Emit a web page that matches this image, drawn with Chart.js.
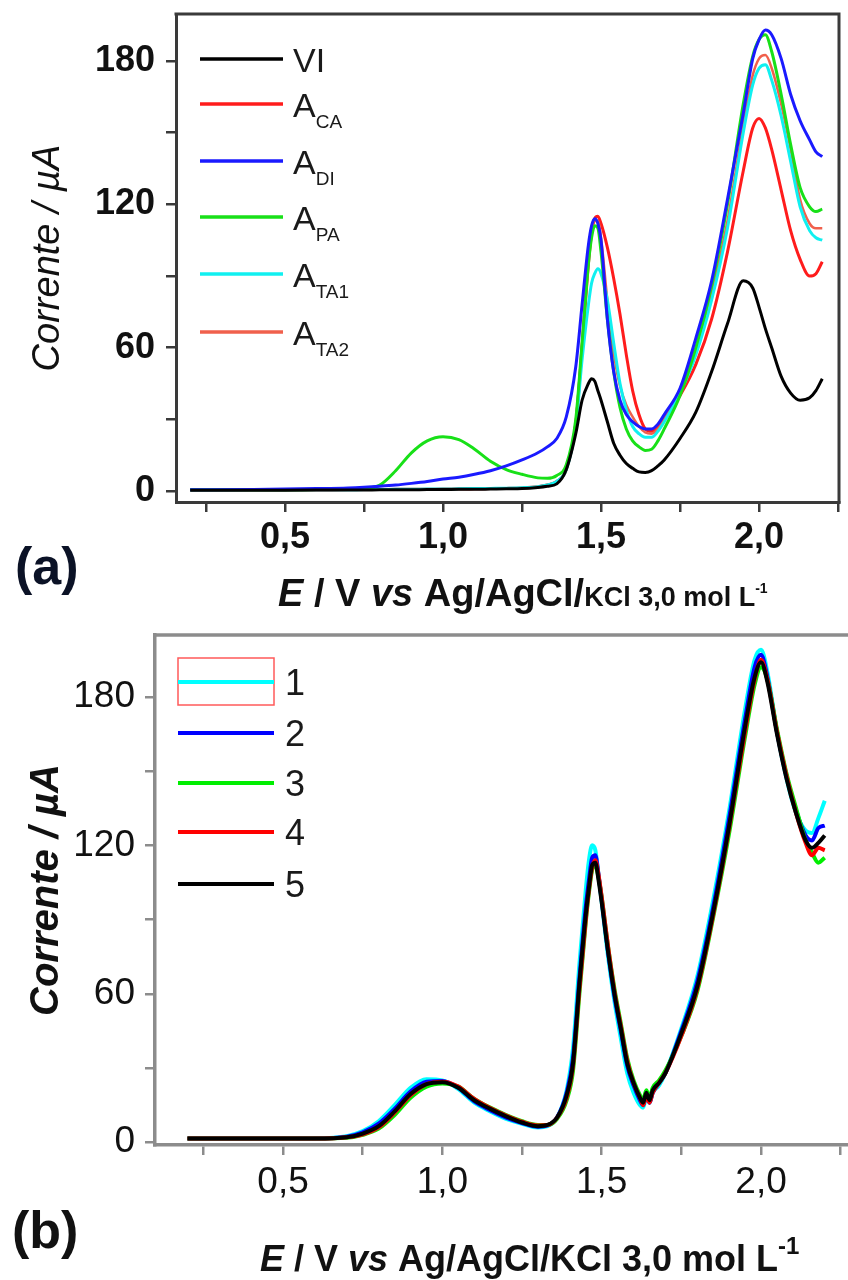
<!DOCTYPE html>
<html lang="pt">
<head>
    <meta charset="UTF-8">
    <title>Voltamogramas (a) e (b)</title>
    <style>
        body {
            margin: 0;
            background: #fff;
            font-family: "Liberation Sans", Arial, sans-serif;
        }

        .panel {
            position: absolute;
            left: 0;
            width: 848px;
        }

        #panelA { top: 0; height: 620px; }
        #panelB { top: 620px; height: 660px; }
    </style>
</head>
<body>

    <div class="panel" id="panelA"><canvas id="chartA" width="848" height="620"></canvas></div>
    <div class="panel" id="panelB"><canvas id="chartB" width="848" height="660"></canvas></div>

    <script src="https://cdn.jsdelivr.net/npm/chart.js"></script>
    <script>
        // ---- data (E in V, current in uA) ----

        // panel (a): one sample of each electrolyte
        const potentialA = [0.20, 0.40, 0.60, 0.70, 0.75, 0.80, 0.85, 0.90, 0.95, 1.00,
                            1.05, 1.10, 1.15, 1.20, 1.25, 1.30, 1.33, 1.36, 1.39, 1.42,
                            1.44, 1.46, 1.47, 1.48, 1.49, 1.50, 1.52, 1.54, 1.56, 1.58,
                            1.60, 1.62, 1.64, 1.66, 1.68, 1.70, 1.75, 1.80, 1.85, 1.90,
                            1.95, 1.98, 2.00, 2.02, 2.04, 2.07, 2.10, 2.13, 2.16, 2.18, 2.20];
        const currentVI = [0.3, 0.3, 0.4, 0.4, 0.4, 0.5, 0.5, 0.5, 0.6, 0.6,
                           0.7, 0.7, 0.8, 0.9, 1.0, 1.5, 2, 3, 9, 24,
                           38, 45, 47, 46, 42, 38, 29, 20, 15, 11.5,
                           9.5, 8, 7.8, 8.5, 10.5, 13, 22, 33, 50, 70,
                           88, 85, 77, 68, 60, 48, 41, 38, 39, 42, 47];
        const currentACA = [0.5, 0.5, 0.5, 0.6, 0.6, 0.6, 0.7, 0.7, 0.7, 0.8,
                            0.8, 0.9, 1.0, 1.1, 1.3, 1.8, 2.5, 4, 9, 28,
                            60, 95, 108, 114, 115, 112, 102, 89, 74, 57,
                            42, 32, 26, 25, 27, 30, 40, 53, 72, 100,
                            134, 152, 156, 152, 143, 126, 109, 97, 90, 91, 96];
        const currentADI = [0.5, 0.6, 1, 1.3, 1.6, 2, 2.5, 3.2, 4, 5,
                            5.8, 7, 8.5, 10.5, 13, 16, 18.5, 22, 31, 52,
                            78, 103, 111, 114, 112, 105, 72, 50, 38, 32,
                            29, 27, 26, 26, 28, 32, 43, 64, 88, 122,
                            158, 181, 189, 193, 191, 181, 166, 155, 147, 142, 140];
        const currentAPA = [0.5, 0.5, 0.6, 0.7, 1, 2.5, 8.5, 16, 21, 22.7,
                            21.5, 17.5, 12.5, 9, 7, 5.5, 5.3, 6.5, 11, 30,
                            62, 95, 106, 111, 110, 100, 72, 50, 35, 26,
                            21, 18.5, 17, 17.5, 21, 26, 40, 60, 86, 120,
                            162, 182, 189, 191, 184, 166, 145, 127, 119, 117, 118];
        const currentATA1 = [0.5, 0.5, 0.5, 0.5, 0.6, 0.6, 0.7, 0.7, 0.8, 0.8,
                             0.9, 1.0, 1.1, 1.2, 1.4, 1.8, 2.5, 4, 9, 27,
                             55, 78, 87, 91, 93, 91, 80, 62, 45, 34,
                             27, 24, 22.5, 22.5, 25, 29, 41, 57, 80, 110,
                             150, 170, 177, 178.5, 172, 157, 138, 119, 109, 106, 105];
        const currentATA2 = [0.5, 0.5, 0.5, 0.6, 0.6, 0.6, 0.7, 0.7, 0.7, 0.8,
                             0.8, 0.9, 1.0, 1.1, 1.3, 1.8, 2.5, 4, 9, 29,
                             62, 96, 108, 113, 113, 106, 80, 58, 44, 36,
                             31, 27, 24.5, 24, 26, 30, 42, 60, 83, 113,
                             153, 174, 181, 182.5, 177, 162, 143, 122, 112, 110, 110];

        // panel (b): five repeated runs
        const potentialB = [0.20, 0.40, 0.60, 0.70, 0.75, 0.80, 0.85, 0.90, 0.95, 1.00,
                            1.05, 1.10, 1.15, 1.20, 1.25, 1.30, 1.33, 1.36, 1.39, 1.41,
                            1.43, 1.45, 1.46, 1.47, 1.48, 1.49, 1.50, 1.52, 1.54, 1.56,
                            1.58, 1.60, 1.62, 1.63, 1.64, 1.65, 1.66, 1.68, 1.70, 1.75,
                            1.80, 1.85, 1.90, 1.95, 1.98, 2.00, 2.02, 2.05, 2.08, 2.11,
                            2.14, 2.16, 2.18, 2.20];
        const run1 = [1.5, 1.5, 1.6, 2.5, 4.5, 8.5, 15, 22, 25.5, 25,
                      21.5, 16, 12.5, 9.5, 7.5, 6, 6.5, 10, 21, 38,
                      72, 102, 114, 120, 118, 108, 97, 75, 57, 42,
                      28, 20, 15, 14, 18, 16, 20, 23, 28, 46,
                      67, 98, 134, 175, 195, 199, 190, 166, 147, 133,
                      126, 125, 131, 138];
        const run2 = [1.5, 1.5, 1.5, 2.2, 4, 7.5, 13.5, 20.5, 24.5, 24.8,
                      22, 16.5, 13, 10, 7.8, 6.3, 6.8, 10, 20, 34,
                      66, 95, 106, 115, 116, 108, 98, 77, 59, 45,
                      31, 23, 17, 15, 19, 16, 20, 24, 28, 45,
                      65, 95, 131, 171, 192, 197, 188, 166, 148, 134,
                      124, 122, 127, 128];
        const run3 = [1.5, 1.5, 1.5, 1.8, 3, 5.5, 11, 18, 22.5, 23.8,
                      22.5, 17.5, 14, 11, 8.5, 7, 7, 9.5, 17, 29,
                      60, 89, 101, 110, 112, 107, 99, 79, 62, 48,
                      34, 25, 19, 17, 21, 18, 22, 25, 29, 43,
                      61, 91, 125, 164, 185, 192, 187, 167, 149, 135,
                      122, 117, 113, 115];
        const run4 = [1.5, 1.5, 1.5, 2, 3.2, 6, 12, 19, 23.5, 24.5,
                      22.5, 17.5, 13.8, 10.8, 8.3, 6.8, 7, 10, 18, 31,
                      62, 90, 102, 111, 114, 108, 99, 79, 61, 47,
                      33, 24, 18, 15, 19, 16, 20, 24, 28, 43,
                      62, 92, 127, 166, 187, 195, 187, 166, 148, 133,
                      121, 116, 119, 118];
        const run5 = [1.5, 1.5, 1.5, 2, 3.5, 6.5, 12.5, 19.5, 23.5, 24.3,
                      22, 17, 13.5, 10.5, 8, 6.5, 7, 10, 19, 32,
                      64, 92, 103, 112, 113, 106, 97, 77, 60, 46,
                      32, 24, 18, 16, 20, 17, 21, 24, 28, 44,
                      63, 93, 128, 168, 188, 194, 186, 165, 147, 133,
                      122, 119, 121, 124];

        // axis ticks
        const xTickValues = [0.25, 0.5, 0.75, 1.0, 1.25, 1.5, 1.75, 2.0, 2.25];
        const xTickLabels = ['', '0,5', '', '1,0', '', '1,5', '', '2,0', ''];
        const yTickValues = [0, 30, 60, 90, 120, 150, 180];
        const yTickLabels = ['0', '', '60', '', '120', '', '180'];

        // legend names: [main, subscript]
        const namesA = [['VI', ''], ['A', 'CA'], ['A', 'DI'], ['A', 'PA'], ['A', 'TA1'], ['A', 'TA2']];
        const namesB = ['1', '2', '3', '4', '5'];

        const FONT = '"Liberation Sans", Arial, sans-serif';

        function toPoints(xs, ys) {
            return xs.map((x, i) => ({ x: x, y: ys[i] }));
        }

        // draws a row of differently styled text pieces
        function drawRuns(ctx, x, y, runs) {
            runs.forEach(r => {
                ctx.font = r.font;
                ctx.fillText(r.text, x, y + (r.dy || 0));
                x += ctx.measureText(r.text).width + (r.gap || 0);
            });
        }

        // top (and right) edge of the plot box
        const framePlugin = {
            id: 'frame',
            afterDatasetsDraw(chart, args, opts) {
                const { ctx, chartArea: a } = chart;
                ctx.save();
                ctx.strokeStyle = opts.color;
                ctx.lineWidth = opts.width;
                ctx.beginPath();
                ctx.moveTo(a.left - opts.width / 2, a.top);
                ctx.lineTo(opts.right ? a.right : chart.width, a.top);
                if (opts.right) ctx.lineTo(a.right, a.bottom + opts.width / 2);
                ctx.stroke();
                ctx.restore();
            }
        };

        // legend, x title and panel letter, drawn by hand because of sub/superscripts
        const notesPlugin = {
            id: 'notes',
            afterDraw(chart, args, opts) {
                const ctx = chart.ctx;
                ctx.save();
                ctx.textBaseline = 'alphabetic';
                ctx.textAlign = 'left';

                // legend
                const lg = opts.legend;
                if (lg.box) {
                    ctx.strokeStyle = lg.box.color;
                    ctx.lineWidth = 1.5;
                    ctx.strokeRect(lg.box.x, lg.box.y, lg.box.w, lg.box.h);
                }
                chart.data.datasets.forEach((ds, i) => {
                    const y = lg.rows[i];
                    ctx.strokeStyle = ds.borderColor;
                    ctx.lineWidth = lg.lineWidth;
                    ctx.beginPath();
                    ctx.moveTo(lg.x1, y);
                    ctx.lineTo(lg.x2, y);
                    ctx.stroke();
                    ctx.fillStyle = '#1a1a1a';
                    const name = lg.names[i];
                    const main = Array.isArray(name) ? name[0] : name;
                    const sub = Array.isArray(name) ? name[1] : '';
                    drawRuns(ctx, lg.textX, y + lg.baseShift, [
                        { text: main, font: lg.font },
                        { text: sub, font: lg.subFont, dy: lg.subShift }
                    ]);
                });

                // x axis title
                ctx.fillStyle = '#111';
                drawRuns(ctx, opts.xTitle.x, opts.xTitle.y, opts.xTitle.runs);

                // panel letter
                ctx.fillStyle = opts.letter.color;
                ctx.font = opts.letter.font;
                ctx.fillText(opts.letter.text, opts.letter.x, opts.letter.y);
                ctx.restore();
            }
        };

        function axes(cfg) {
            return {
                x: {
                    type: 'linear',
                    min: cfg.xMin,
                    max: cfg.xMax,
                    afterBuildTicks: s => { s.ticks = xTickValues.map(v => ({ value: v })); },
                    afterFit: s => { s.height = cfg.xHeight; s.paddingLeft = 0; s.paddingRight = 0; },
                    grid: { drawOnChartArea: false, drawTicks: true, tickLength: 10, color: cfg.axisColor, lineWidth: 2.5 },
                    border: { display: true, color: cfg.axisColor, width: cfg.axisWidth },
                    ticks: {
                        autoSkip: false, maxRotation: 0, padding: cfg.xPad, color: '#111',
                        font: { family: FONT, size: cfg.tickSize, weight: cfg.tickWeight },
                        callback: (v, i) => xTickLabels[i]
                    }
                },
                y: {
                    type: 'linear',
                    min: cfg.yMin,
                    max: cfg.yMax,
                    afterBuildTicks: s => { s.ticks = yTickValues.map(v => ({ value: v })); },
                    afterFit: s => { s.width = cfg.yWidth; s.paddingTop = 0; s.paddingBottom = 0; },
                    grid: { drawOnChartArea: false, drawTicks: true, tickLength: 10, color: cfg.axisColor, lineWidth: 2.5 },
                    border: { display: true, color: cfg.axisColor, width: cfg.axisWidth },
                    ticks: {
                        autoSkip: false, padding: cfg.yPad, color: '#111',
                        font: { family: FONT, size: cfg.tickSize, weight: cfg.tickWeight },
                        callback: (v, i) => yTickLabels[i]
                    },
                    title: {
                        display: true,
                        text: 'Corrente / \u00b5A',
                        color: '#111',
                        font: { family: FONT, size: cfg.titleSize, style: 'italic', weight: cfg.titleWeight },
                        padding: { top: cfg.titlePad, bottom: 0 }
                    }
                }
            };
        }

        function line(label, xs, ys, color, width, order) {
            return {
                label: label,
                data: toPoints(xs, ys),
                borderColor: color,
                borderWidth: width,
                pointRadius: 0,
                fill: false,
                cubicInterpolationMode: 'monotone',
                order: order
            };
        }

        // ---------- panel (a) ----------
        new Chart(document.getElementById('chartA'), {
            type: 'line',
            data: {
                datasets: [
                    line('VI', potentialA, currentVI, '#000000', 3, 0),
                    line('ACA', potentialA, currentACA, '#ff1c1c', 3, 5),
                    line('ADI', potentialA, currentADI, '#1a1aff', 3, 1),
                    line('APA', potentialA, currentAPA, '#18e018', 3, 2),
                    line('ATA1', potentialA, currentATA1, '#10f0f0', 3, 3),
                    line('ATA2', potentialA, currentATA2, '#f0604c', 2.5, 4)
                ]
            },
            options: {
                responsive: false,
                animation: false,
                layout: { padding: { top: 14, right: 9, left: 0, bottom: 0 } },
                scales: axes({
                    xMin: 0.155, xMax: 2.253, yMin: -4.6, yMax: 199.7,
                    xHeight: 118, yWidth: 176, xPad: 4, yPad: 11,
                    axisColor: '#3a3a3a', axisWidth: 3,
                    tickSize: 36, tickWeight: 'bold',
                    titleSize: 38, titleWeight: 'normal', titlePad: 26
                }),
                plugins: {
                    legend: { display: false },
                    tooltip: { enabled: false },
                    frame: { color: '#3a3a3a', width: 3, right: true },
                    notes: {
                        legend: {
                            names: namesA,
                            rows: [59, 104, 161, 217, 274, 332],
                            x1: 200, x2: 283, textX: 293, lineWidth: 3.5,
                            font: '34px ' + FONT, subFont: '19px ' + FONT,
                            baseShift: 13, subShift: 11
                        },
                        xTitle: {
                            x: 278, y: 606,
                            runs: [
                                { text: 'E', font: 'italic bold 38px ' + FONT },
                                { text: ' / V ', font: 'bold 38px ' + FONT },
                                { text: 'vs', font: 'italic bold 38px ' + FONT },
                                { text: ' Ag/AgCl/', font: 'bold 38px ' + FONT },
                                { text: 'KCl 3,0 mol L', font: 'bold 27px ' + FONT },
                                { text: '-1', font: 'bold 14px ' + FONT, dy: -13 }
                            ]
                        },
                        letter: { text: '(a)', font: 'bold 52px ' + FONT, color: '#0b1226', x: 15, y: 584 }
                    }
                }
            },
            plugins: [framePlugin, notesPlugin]
        });

        // ---------- panel (b) ----------
        new Chart(document.getElementById('chartB'), {
            type: 'line',
            data: {
                datasets: [
                    line('1', potentialB, run1, '#00ffff', 4, 4),
                    line('2', potentialB, run2, '#0000ff', 4, 3),
                    line('3', potentialB, run3, '#00ee00', 4, 2),
                    line('4', potentialB, run4, '#ff0000', 4, 1),
                    line('5', potentialB, run5, '#000000', 4, 0)
                ]
            },
            options: {
                responsive: false,
                animation: false,
                layout: { padding: { top: 15, right: 0, left: 0, bottom: 0 } },
                scales: axes({
                    xMin: 0.098, xMax: 2.273, yMin: -1.1, yMax: 205,
                    xHeight: 135, yWidth: 155, xPad: 6, yPad: 10,
                    axisColor: '#8c8c8c', axisWidth: 3.5,
                    tickSize: 37, tickWeight: 'normal',
                    titleSize: 40, titleWeight: 'bold', titlePad: 23
                }),
                plugins: {
                    legend: { display: false },
                    tooltip: { enabled: false },
                    frame: { color: '#8c8c8c', width: 3.5, right: false },
                    notes: {
                        legend: {
                            names: namesB,
                            rows: [62, 113, 163, 212, 264],
                            x1: 178, x2: 274, textX: 285, lineWidth: 4,
                            font: '36px ' + FONT, subFont: '19px ' + FONT,
                            baseShift: 13, subShift: 0,
                            box: { x: 178, y: 38, w: 96, h: 47, color: '#ff5a5a' }
                        },
                        xTitle: {
                            x: 260, y: 651,
                            runs: [
                                { text: 'E', font: 'italic bold 36px ' + FONT },
                                { text: ' / V ', font: 'bold 36px ' + FONT },
                                { text: 'vs', font: 'italic bold 36px ' + FONT },
                                { text: ' Ag/AgCl/KCl 3,0 mol L', font: 'bold 36px ' + FONT },
                                { text: '-1', font: 'bold 24px ' + FONT, dy: -17 }
                            ]
                        },
                        letter: { text: '(b)', font: 'bold 52px ' + FONT, color: '#111', x: 12, y: 628 }
                    }
                }
            },
            plugins: [framePlugin, notesPlugin]
        });
    </script>

</body>
</html>
